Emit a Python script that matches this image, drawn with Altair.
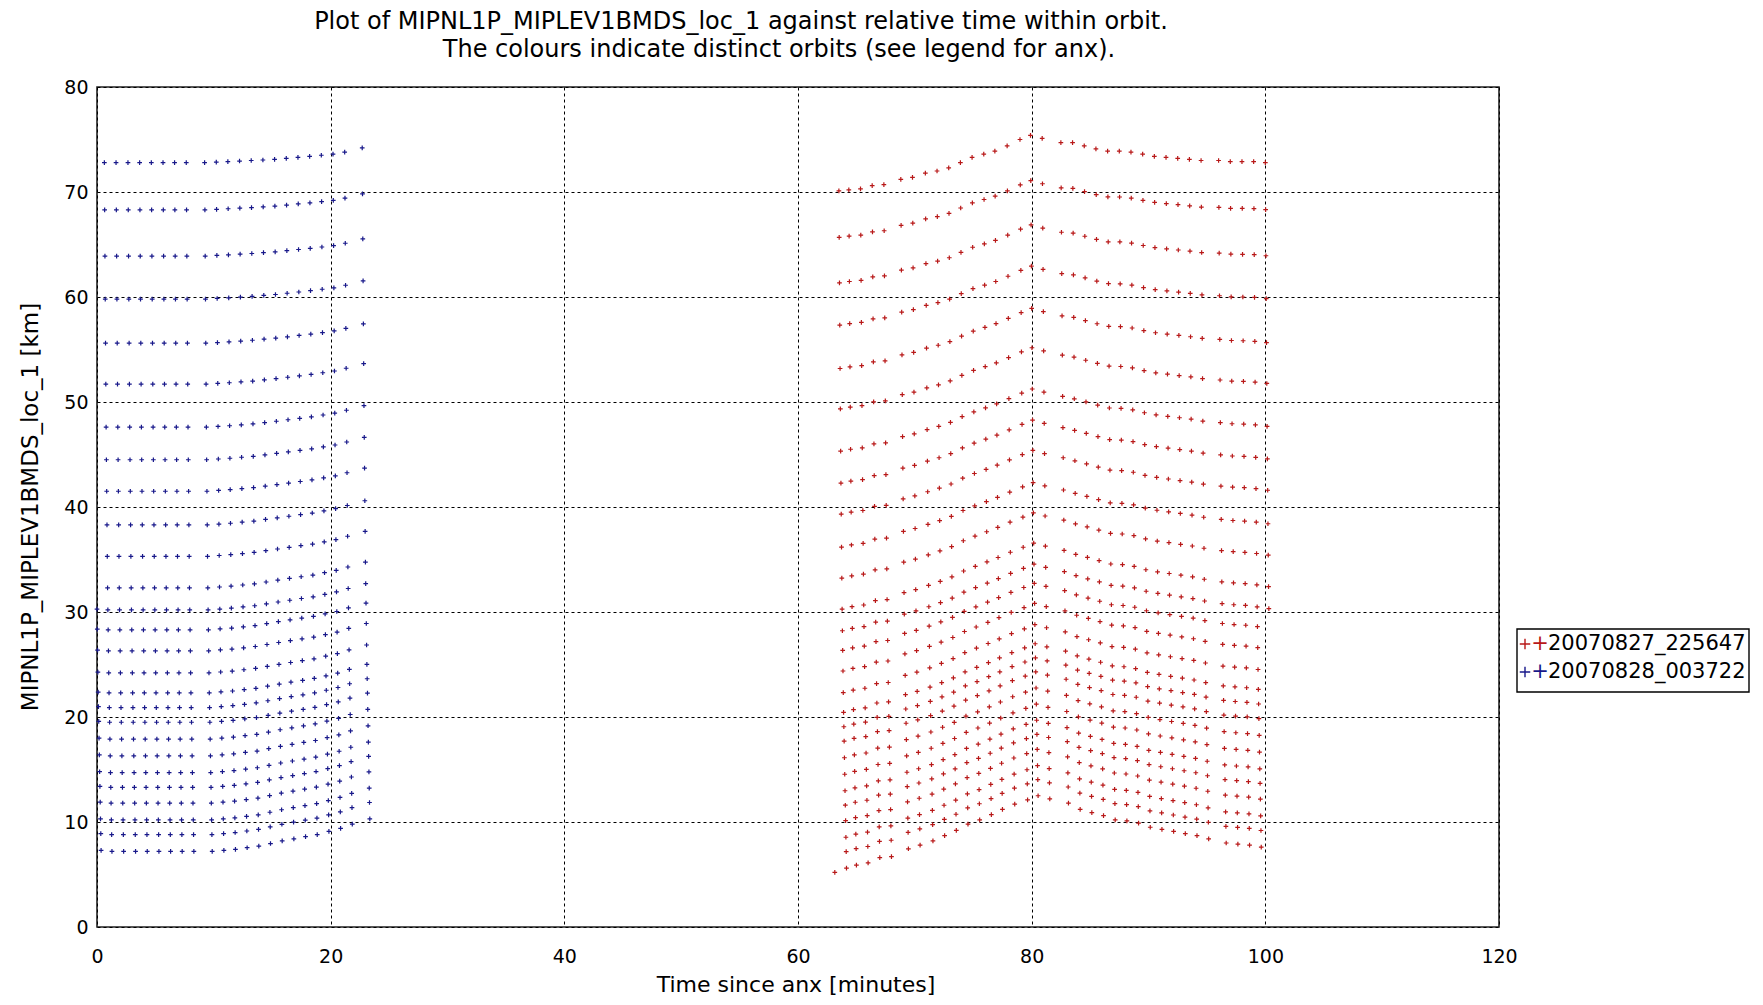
import altair as alt
import pandas as pd

# ---------------- text ----------------
TITLE_LINES = [
    "Plot of MIPNL1P_MIPLEV1BMDS_loc_1 against relative time within orbit.",
    "The colours indicate distinct orbits (see legend for anx).",
]
X_TITLE = "Time since anx [minutes]"
Y_TITLE = "MIPNL1P_MIPLEV1BMDS_loc_1 [km]"
ORBIT_LABELS = ["20070827_225647", "20070828_003722"]
ORBIT_COLORS = ["#b81818", "#18188a"]
X_TICKS = [0, 20, 40, 60, 80, 100, 120]
Y_TICKS = [0, 10, 20, 30, 40, 50, 60, 70, 80]

# ---------------- data ----------------
# tangent altitudes (km) of the 27 sweeps of one limb scan (top -> bottom), at anx
SWEEP_ALT = [72.8, 68.3, 63.9, 59.8, 55.6, 51.7, 47.6, 44.5, 41.5, 38.3, 35.3,
             32.3, 30.2, 28.3, 26.3, 24.2, 22.3, 20.9, 19.5, 17.9, 16.3, 14.7,
             13.3, 11.8, 10.2, 8.8, 7.2]
# time (minutes) from the top sweep to the bottom sweep of one scan
SCAN_DURATION = 0.65

# orbit 20070828_003722 (blue): scan start times and altitude shifts of top / bottom sweep
BLUE_SCAN_T = [-0.3, 0.63, 1.63, 2.65, 3.65, 4.65, 5.65, 6.64, 7.64,
               9.21, 10.21, 11.2, 12.2, 13.2, 14.2, 15.2, 16.2, 17.2, 18.2, 19.2, 20.2, 21.2,
               22.7]
BLUE_SHIFT_TOP = [0.0, 0.0, 0.0, 0.0, 0.0, 0.0, 0.0, 0.0, 0.0,
                  0.0, 0.05, 0.1, 0.15, 0.2, 0.25, 0.3, 0.4, 0.5, 0.6, 0.7, 0.8, 1.0,
                  1.4]
BLUE_SHIFT_BOTTOM = [0.1, 0.0, 0.0, 0.0, 0.0, 0.0, 0.0, 0.0, 0.0,
                     0.0, 0.1, 0.2, 0.35, 0.5, 0.75, 1.0, 1.2, 1.4, 1.6, 1.9, 2.2, 2.6,
                     3.1]
BLUE_T_RANGE = [0.0, 24.0]

# orbit 20070827_225647 (red)
RED_SCAN_T = [62.5, 63.5, 64.35, 65.35, 66.35, 67.35,
              68.8, 69.8, 70.9, 71.9, 72.9, 73.9, 74.9, 75.9, 76.85, 77.9, 79.0, 79.9, 80.9,
              82.5, 83.5, 84.5, 85.5, 86.5, 87.5, 88.5, 89.5, 90.5, 91.5, 92.5, 93.5, 94.5,
              96.0, 97.0, 98.0, 99.0, 100.0]
RED_SHIFT_TOP = [-2.8, -2.7, -2.6, -2.5, -2.2, -2.1,
                 -1.6, -1.4, -1.0, -0.8, -0.5, 0.0, 0.5, 0.8, 1.1, 1.6, 2.2, 2.6, 2.3,
                 1.9, 1.9, 1.6, 1.3, 1.1, 1.1, 1.0, 0.8, 0.6, 0.5, 0.4, 0.3, 0.2,
                 0.2, 0.1, 0.1, 0.1, 0.0]
RED_SHIFT_BOTTOM = [-2.0, -1.6, -1.3, -1.1, -0.6, -0.5,
                    0.25, 0.6, 1.0, 1.5, 2.0, 2.6, 3.0, 3.5, 4.0, 4.5, 4.9, 5.3, 5.0,
                    4.6, 4.0, 3.7, 3.4, 3.0, 2.9, 2.7, 2.3, 2.1, 1.9, 1.7, 1.5, 1.2,
                    0.8, 0.7, 0.6, 0.4, 0.2]
RED_T_RANGE = [63.13, 100.3]


def scan_points(label, scan_t, s_top, s_bot, t_range):
    rows = []
    n = len(SWEEP_ALT) - 1
    span = SWEEP_ALT[0] - SWEEP_ALT[-1]
    for T, a, b in zip(scan_t, s_top, s_bot):
        for i, h in enumerate(SWEEP_ALT):
            t = T + SCAN_DURATION * i / n
            if t < t_range[0] or t > t_range[1]:
                continue
            w = (SWEEP_ALT[0] - h) / span
            rows.append({"t": t, "alt": h + a + (b - a) * w, "orbit": label})
    return rows


df = pd.DataFrame(
    scan_points(ORBIT_LABELS[0], RED_SCAN_T, RED_SHIFT_TOP, RED_SHIFT_BOTTOM, RED_T_RANGE)
    + scan_points(ORBIT_LABELS[1], BLUE_SCAN_T, BLUE_SHIFT_TOP, BLUE_SHIFT_BOTTOM, BLUE_T_RANGE)
)

FONT = "DejaVu Sans"
PLUS = "M-1,0L1,0M0,-1L0,1"
W, H = 1402, 840

points = alt.Chart(df).mark_point(
    shape=PLUS, size=22, filled=False, strokeWidth=1.2, opacity=1
).encode(
    x=alt.X("t:Q", scale=alt.Scale(domain=[0, 120], nice=False, zero=False),
            axis=alt.Axis(values=X_TICKS, title=None, grid=True, gridColor="black",
                          gridDash=[3, 3], gridWidth=1, gridOpacity=1, ticks=False, tickSize=0,
                          domain=False, labelFont=FONT, labelFontSize=19, labelColor="black",
                          labelPadding=20, labelFlush=False, format="d")),
    y=alt.Y("alt:Q", scale=alt.Scale(domain=[0, 80], nice=False),
            axis=alt.Axis(values=Y_TICKS, title=None, grid=True, gridColor="black",
                          gridDash=[3, 3], gridWidth=1, gridOpacity=1, ticks=False, tickSize=0,
                          domain=False, labelFont=FONT, labelFontSize=19, labelColor="black",
                          labelPadding=9, format="d")),
    color=alt.Color("orbit:N", scale=alt.Scale(domain=ORBIT_LABELS, range=ORBIT_COLORS),
                    legend=None),
)


def text_layer(s, x, y, size, angle=0, align="center", color="black"):
    return alt.Chart(pd.DataFrame({"s": [s]})).mark_text(
        font=FONT, fontSize=size, align=align, baseline="middle", angle=angle, color=color
    ).encode(x=alt.value(x), y=alt.value(y), text="s:N")


layers = [points]
layers.append(text_layer(TITLE_LINES[0], 644, -65, 24))
layers.append(text_layer(TITLE_LINES[1], 682, -37, 24))
layers.append(text_layer(X_TITLE, 699, 898, 22))
layers.append(text_layer(Y_TITLE, -66, 420, 23, angle=270))

# legend box
layers.append(
    alt.Chart(pd.DataFrame({"k": [0]})).mark_rect(
        fill="white", stroke="black", strokeWidth=1.4
    ).encode(x=alt.value(1420), x2=alt.value(1652), y=alt.value(542), y2=alt.value(605))
)
for k, (lab, col) in enumerate(zip(ORBIT_LABELS, ORBIT_COLORS)):
    yy = 557 + 28 * k
    layers.append(
        alt.Chart(pd.DataFrame({"k": [k]})).mark_point(
            shape=PLUS, size=110, filled=False, strokeWidth=1.4, opacity=1, color=col
        ).encode(x=alt.value(1428), y=alt.value(yy))
    )
    layers.append(text_layer("+", 1443, yy, 21, color=col))
    layers.append(text_layer(lab, 1451, yy, 21, align="left"))

chart = alt.layer(*layers).properties(
    width=W, height=H,
    autosize=alt.AutoSizeParams(type="none"),
    padding={"left": 89, "top": 79, "right": 252, "bottom": 69},
    background="white",
).configure_view(stroke="#222222", strokeWidth=1.6)

chart.save("out.html", embed_options={"renderer": "svg", "actions": False})
